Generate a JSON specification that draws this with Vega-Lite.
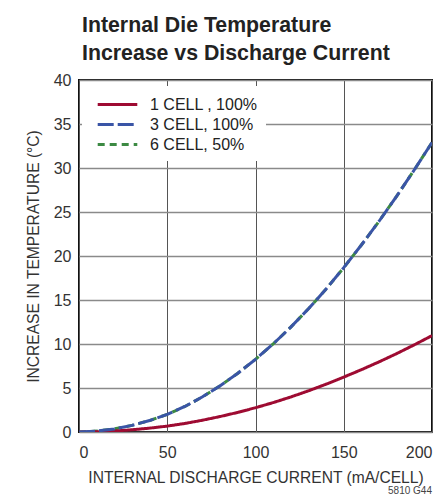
{
  "$schema": "https://vega.github.io/schema/vega-lite/v6.json",
  "autosize": {"type": "none"},
  "padding": {"left": 79, "top": 80, "right": 8, "bottom": 68},
  "width": 353,
  "height": 352,
  "background": "white",
  "title": {
    "text": ["Internal Die Temperature", "Increase vs Discharge Current"],
    "anchor": "start",
    "frame": "group",
    "font": "Liberation Sans",
    "fontSize": 21.3,
    "fontWeight": "bold",
    "color": "#222222",
    "lineHeight": 28,
    "offset": 8,
    "dx": 3
  },
  "config": {
    "font": "Liberation Sans",
    "view": {"stroke": "#111111", "strokeWidth": 2},
    "axis": {
      "labelFontSize": 16,
      "labelColor": "#333333",
      "labelFont": "Liberation Sans",
      "titleFont": "Liberation Sans",
      "titleFontSize": 15.6,
      "titleFontWeight": "normal",
      "titleColor": "#333333",
      "ticks": false,
      "domain": false,
      "gridOpacity": 1
    },
    "axisX": {"gridColor": "#555555", "gridWidth": 1},
    "axisY": {"gridColor": "#8a8a8a", "gridWidth": 1.3},
    "legend": {"labelFont": "Liberation Sans"}
  },
  "data": {
    "values": [
      {"current": 0, "temp": 0, "series": "1 CELL , 100%"},
      {"current": 10, "temp": 0.03, "series": "1 CELL , 100%"},
      {"current": 20, "temp": 0.11, "series": "1 CELL , 100%"},
      {"current": 30, "temp": 0.25, "series": "1 CELL , 100%"},
      {"current": 40, "temp": 0.44, "series": "1 CELL , 100%"},
      {"current": 50, "temp": 0.67, "series": "1 CELL , 100%"},
      {"current": 60, "temp": 0.97, "series": "1 CELL , 100%"},
      {"current": 70, "temp": 1.34, "series": "1 CELL , 100%"},
      {"current": 80, "temp": 1.76, "series": "1 CELL , 100%"},
      {"current": 90, "temp": 2.23, "series": "1 CELL , 100%"},
      {"current": 100, "temp": 2.76, "series": "1 CELL , 100%"},
      {"current": 110, "temp": 3.34, "series": "1 CELL , 100%"},
      {"current": 120, "temp": 3.98, "series": "1 CELL , 100%"},
      {"current": 130, "temp": 4.68, "series": "1 CELL , 100%"},
      {"current": 140, "temp": 5.43, "series": "1 CELL , 100%"},
      {"current": 150, "temp": 6.24, "series": "1 CELL , 100%"},
      {"current": 160, "temp": 7.08, "series": "1 CELL , 100%"},
      {"current": 170, "temp": 7.97, "series": "1 CELL , 100%"},
      {"current": 180, "temp": 8.91, "series": "1 CELL , 100%"},
      {"current": 190, "temp": 9.91, "series": "1 CELL , 100%"},
      {"current": 200, "temp": 10.95, "series": "1 CELL , 100%"},
      {"current": 0, "temp": 0, "series": "3 CELL, 100%"},
      {"current": 10, "temp": 0.1, "series": "3 CELL, 100%"},
      {"current": 20, "temp": 0.35, "series": "3 CELL, 100%"},
      {"current": 30, "temp": 0.75, "series": "3 CELL, 100%"},
      {"current": 40, "temp": 1.3, "series": "3 CELL, 100%"},
      {"current": 50, "temp": 2.0, "series": "3 CELL, 100%"},
      {"current": 60, "temp": 2.9, "series": "3 CELL, 100%"},
      {"current": 70, "temp": 4.0, "series": "3 CELL, 100%"},
      {"current": 80, "temp": 5.26, "series": "3 CELL, 100%"},
      {"current": 90, "temp": 6.68, "series": "3 CELL, 100%"},
      {"current": 100, "temp": 8.26, "series": "3 CELL, 100%"},
      {"current": 110, "temp": 10.0, "series": "3 CELL, 100%"},
      {"current": 120, "temp": 11.92, "series": "3 CELL, 100%"},
      {"current": 130, "temp": 14.0, "series": "3 CELL, 100%"},
      {"current": 140, "temp": 16.25, "series": "3 CELL, 100%"},
      {"current": 150, "temp": 18.68, "series": "3 CELL, 100%"},
      {"current": 160, "temp": 21.25, "series": "3 CELL, 100%"},
      {"current": 170, "temp": 23.95, "series": "3 CELL, 100%"},
      {"current": 180, "temp": 26.8, "series": "3 CELL, 100%"},
      {"current": 190, "temp": 29.8, "series": "3 CELL, 100%"},
      {"current": 200, "temp": 32.9, "series": "3 CELL, 100%"},
      {"current": 0, "temp": 0, "series": "6 CELL, 50%"},
      {"current": 10, "temp": 0.1, "series": "6 CELL, 50%"},
      {"current": 20, "temp": 0.35, "series": "6 CELL, 50%"},
      {"current": 30, "temp": 0.75, "series": "6 CELL, 50%"},
      {"current": 40, "temp": 1.3, "series": "6 CELL, 50%"},
      {"current": 50, "temp": 2.0, "series": "6 CELL, 50%"},
      {"current": 60, "temp": 2.9, "series": "6 CELL, 50%"},
      {"current": 70, "temp": 4.0, "series": "6 CELL, 50%"},
      {"current": 80, "temp": 5.26, "series": "6 CELL, 50%"},
      {"current": 90, "temp": 6.68, "series": "6 CELL, 50%"},
      {"current": 100, "temp": 8.26, "series": "6 CELL, 50%"},
      {"current": 110, "temp": 10.0, "series": "6 CELL, 50%"},
      {"current": 120, "temp": 11.92, "series": "6 CELL, 50%"},
      {"current": 130, "temp": 14.0, "series": "6 CELL, 50%"},
      {"current": 140, "temp": 16.25, "series": "6 CELL, 50%"},
      {"current": 150, "temp": 18.68, "series": "6 CELL, 50%"},
      {"current": 160, "temp": 21.25, "series": "6 CELL, 50%"},
      {"current": 170, "temp": 23.95, "series": "6 CELL, 50%"},
      {"current": 180, "temp": 26.8, "series": "6 CELL, 50%"},
      {"current": 190, "temp": 29.8, "series": "6 CELL, 50%"},
      {"current": 200, "temp": 32.9, "series": "6 CELL, 50%"}
    ]
  },
  "encoding": {
    "x": {
      "field": "current", "type": "quantitative",
      "scale": {"domain": [0, 200], "nice": false},
      "axis": {"values": [0, 50, 100, 150, 200], "title": "INTERNAL DISCHARGE CURRENT (mA/CELL)", "labelPadding": 12, "titlePadding": 10}
    },
    "y": {
      "field": "temp", "type": "quantitative",
      "scale": {"domain": [0, 40], "nice": false},
      "axis": {"values": [0, 5, 10, 15, 20, 25, 30, 35, 40], "title": "INCREASE IN TEMPERATURE (°C)", "labelPadding": 8, "titlePadding": 12}
    }
  },
  "layer": [
    {
      "transform": [{"filter": "datum.series === '6 CELL, 50%'"}],
      "mark": {"type": "line", "strokeWidth": 3, "clip": true},
      "encoding": {
        "color": {"field": "series", "type": "nominal", "scale": {"domain": ["1 CELL , 100%", "3 CELL, 100%", "6 CELL, 50%"], "range": ["#9e0b32", "#3a55a6", "#3c8a43"]}},
        "strokeDash": {"field": "series", "type": "nominal", "scale": {"domain": ["1 CELL , 100%", "3 CELL, 100%", "6 CELL, 50%"], "range": [[1, 0], [16, 4], [7, 5]]}}
      }
    },
    {
      "transform": [{"filter": "datum.series !== '6 CELL, 50%'"}],
      "mark": {"type": "line", "strokeWidth": 3, "clip": true},
      "encoding": {
        "color": {"field": "series", "type": "nominal", "scale": {"domain": ["1 CELL , 100%", "3 CELL, 100%", "6 CELL, 50%"], "range": ["#9e0b32", "#3a55a6", "#3c8a43"]},
          "legend": {"title": null, "orient": "none", "legendX": 3, "legendY": 6, "fillColor": "white", "padding": 8, "symbolOffset": 17, "symbolType": "M-2.2,0H2.2", "symbolSize": 324, "symbolStrokeWidth": 3, "labelFontSize": 16, "labelColor": "#222222", "labelOffset": 22, "rowPadding": 1}},
        "strokeDash": {"field": "series", "type": "nominal", "scale": {"domain": ["1 CELL , 100%", "3 CELL, 100%", "6 CELL, 50%"], "range": [[1, 0], [16, 4], [7, 5]]},
          "legend": {"title": null, "orient": "none", "legendX": 3, "legendY": 6, "fillColor": "white", "padding": 8, "symbolOffset": 17, "symbolType": "M-2.2,0H2.2", "symbolSize": 324, "symbolStrokeWidth": 3, "labelFontSize": 16, "labelColor": "#222222", "labelOffset": 22, "rowPadding": 1}}
      }
    },
    {
      "data": {"values": [{"note": "5810 G44", "current": 200, "temp": -6.7}]},
      "mark": {"type": "text", "align": "right", "baseline": "middle", "fontSize": 10, "fontWeight": "normal", "font": "Liberation Sans", "color": "#444444"},
      "encoding": {
        "text": {"field": "note"}
      }
    }
  ]
}
